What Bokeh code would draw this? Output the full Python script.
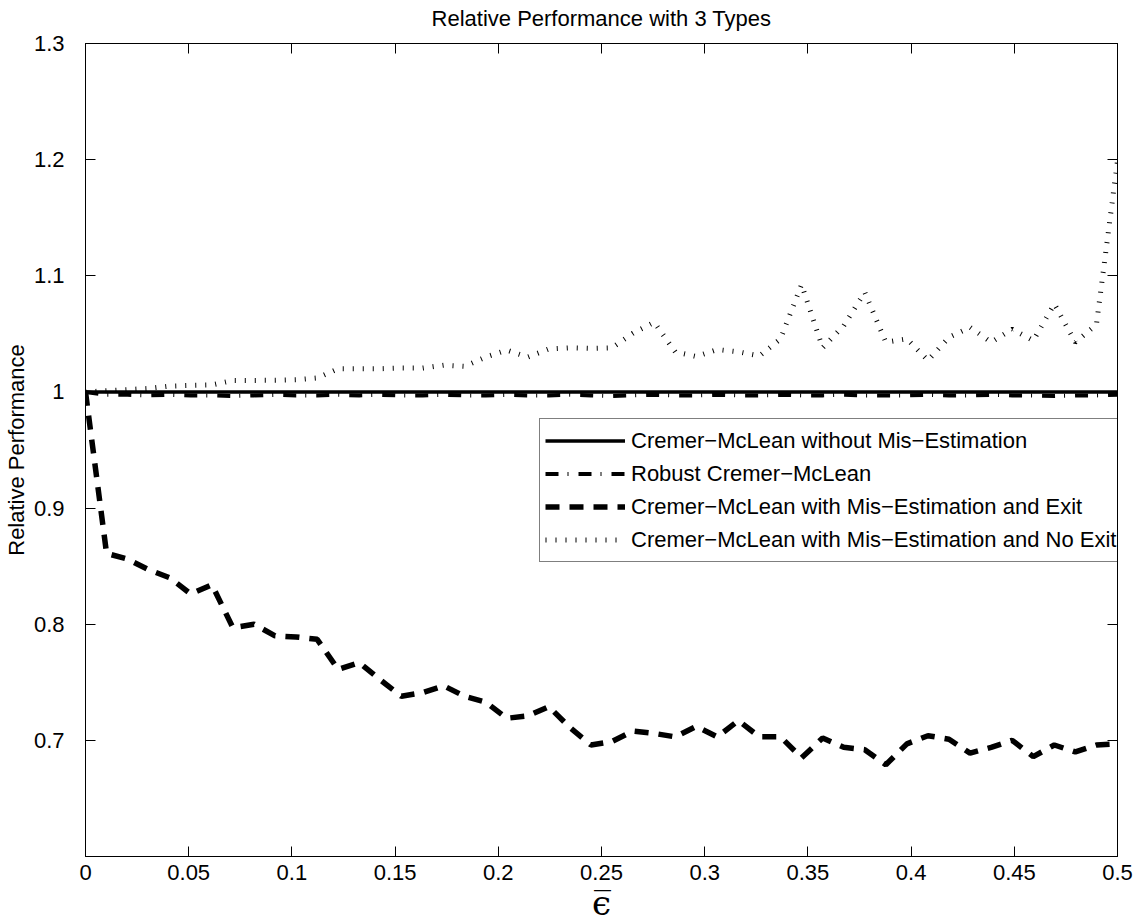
import numpy as np
from bokeh.plotting import figure
from bokeh.models import LinearAxis, FixedTicker, Range1d, Legend, LegendItem
from bokeh.embed import file_html
from bokeh.resources import INLINE

# ---------------- data ----------------
eps_bar = np.linspace(0.0, 0.5, 50)          # sample grid of epsilon-bar

cm_without_misest = [1.0] * 50

robust_cm = [1.000, 0.9975, 0.9975, 0.997, 0.9975, 0.997, 0.997, 0.9965, 0.997, 0.9975,
             0.997, 0.997, 0.9975, 0.997, 0.9975, 0.997, 0.997, 0.9975, 0.997, 0.997,
             0.9975, 0.997, 0.997, 0.9975, 0.997, 0.9965, 0.997, 0.9975, 0.997, 0.997,
             0.9975, 0.997, 0.997, 0.9975, 0.997, 0.997, 0.9975, 0.997, 0.997, 0.997,
             0.9975, 0.997, 0.997, 0.9975, 0.997, 0.997, 0.9965, 0.997, 0.997, 0.9975]

cm_misest_exit = [1.000, 0.861, 0.856, 0.847, 0.840, 0.826, 0.834, 0.797, 0.800, 0.790,
                  0.789, 0.787, 0.761, 0.767, 0.752, 0.738, 0.741, 0.747, 0.738, 0.733,
                  0.719, 0.721, 0.729, 0.711, 0.696, 0.699, 0.708, 0.706, 0.703, 0.712,
                  0.703, 0.717, 0.703, 0.703, 0.685, 0.702, 0.694, 0.692, 0.679, 0.697,
                  0.704, 0.701, 0.689, 0.694, 0.700, 0.686, 0.696, 0.690, 0.696, 0.697]

cm_misest_noexit = [1.000, 1.001, 1.002, 1.003, 1.005, 1.0056, 1.006, 1.0099, 1.0099, 1.010,
                    1.0105, 1.012, 1.020, 1.020, 1.020, 1.0205, 1.0205, 1.023, 1.022, 1.030,
                    1.036, 1.030, 1.037, 1.038, 1.0375, 1.038, 1.0506, 1.060, 1.0345, 1.0305,
                    1.0365, 1.0345, 1.031, 1.0457, 1.0924, 1.038, 1.057, 1.0858, 1.0428, 1.0457,
                    1.0271, 1.0471, 1.0557, 1.0428, 1.0541, 1.0442, 1.0758, 1.0428, 1.058, 1.199]

series_labels = ["Cremer\u2212McLean without Mis\u2212Estimation",
                 "Robust Cremer\u2212McLean",
                 "Cremer\u2212McLean with Mis\u2212Estimation and Exit",
                 "Cremer\u2212McLean with Mis\u2212Estimation and No Exit"]

x_ticks = [0, 0.05, 0.1, 0.15, 0.2, 0.25, 0.3, 0.35, 0.4, 0.45, 0.5]
x_tick_labels = ["0", "0.05", "0.1", "0.15", "0.2", "0.25", "0.3", "0.35", "0.4", "0.45", "0.5"]
y_ticks = [0.7, 0.8, 0.9, 1.0, 1.1, 1.2, 1.3]
y_tick_labels = ["0.7", "0.8", "0.9", "1", "1.1", "1.2", "1.3"]

title_text = "Relative Performance with 3 Types"
y_label = "Relative Performance"
x_label = "\u03f5\u0305"

FONT = "Liberation Sans"

# ---------------- figure ----------------
p = figure(frame_width=1032, frame_height=813,
           x_range=Range1d(0.0, 0.5), y_range=Range1d(0.6, 1.3),
           output_backend="svg", toolbar_location=None,
           min_border_left=83, min_border_right=28, min_border_top=43, min_border_bottom=64,
           background_fill_color="white", border_fill_color="white")

p.title.text = title_text
p.title.text_font = FONT
p.title.text_font_size = "22px"
p.title.text_font_style = "normal"
p.title.text_color = "black"
p.title.align = "center"
p.title.standoff = 5

p.xgrid.grid_line_color = None
p.ygrid.grid_line_color = None
p.outline_line_color = "black"
p.outline_line_width = 1


def style_axis(ax, show_labels=True):
    ax.axis_line_color = "black"
    ax.axis_line_width = 1
    ax.major_tick_line_color = "black"
    ax.major_tick_line_width = 1
    ax.major_tick_in = 10
    ax.major_tick_out = 0
    ax.minor_tick_line_color = None
    if show_labels:
        ax.major_label_text_font = FONT
        ax.major_label_text_font_size = "22px"
        ax.major_label_text_color = "black"
    else:
        ax.major_label_text_font_size = "0px"
        ax.major_label_standoff = 0


xb = p.xaxis[0]
xb.ticker = FixedTicker(ticks=x_ticks)
xb.major_label_overrides = {t: s for t, s in zip(x_ticks, x_tick_labels)}
style_axis(xb)
xb.major_label_standoff = 8
xb.axis_label = x_label
xb.axis_label_text_font = "DejaVu Serif"
xb.axis_label_text_font_size = "34px"
xb.axis_label_text_font_style = "normal"
xb.axis_label_text_color = "black"
xb.axis_label_standoff = 0

yl = p.yaxis[0]
yl.ticker = FixedTicker(ticks=y_ticks)
yl.major_label_overrides = {t: s for t, s in zip(y_ticks, y_tick_labels)}
style_axis(yl)
yl.major_label_standoff = 21
yl.axis_label = y_label
yl.axis_label_text_font = FONT
yl.axis_label_text_font_size = "22px"
yl.axis_label_text_font_style = "normal"
yl.axis_label_text_color = "black"
yl.axis_label_standoff = 2

# top axis (ticks only); a blank axis label reserves a gap that lifts the title
xt = LinearAxis(ticker=FixedTicker(ticks=x_ticks))
style_axis(xt, show_labels=False)
xt.axis_label = "\u00a0"
xt.axis_label_text_font = FONT
xt.axis_label_text_font_size = "7px"
xt.axis_label_standoff = 0
p.add_layout(xt, "above")

yr = LinearAxis(ticker=FixedTicker(ticks=y_ticks))
style_axis(yr, show_labels=False)
p.add_layout(yr, "right")

# ---------------- lines ----------------
r_solid = p.line(eps_bar, cm_without_misest, line_color="black", line_width=3.5)
r_robust = p.line(eps_bar, robust_cm, line_color="black", line_width=4,
                  line_dash="13 9 1 10", line_cap="butt")
r_exit = p.line(eps_bar, cm_misest_exit, line_color="black", line_width=5.5,
                line_dash="14 10", line_cap="butt")
r_noexit = p.line(eps_bar, cm_misest_noexit, line_color="black", line_width=5,
                  line_dash="1 9", line_cap="butt")

legend = Legend(items=[LegendItem(label=series_labels[0], renderers=[r_solid]),
                       LegendItem(label=series_labels[1], renderers=[r_robust]),
                       LegendItem(label=series_labels[2], renderers=[r_exit]),
                       LegendItem(label=series_labels[3], renderers=[r_noexit])],
                location=(454, 294), margin=0, padding=5, spacing=0,
                glyph_width=80, glyph_height=33, label_height=33, label_width=484,
                label_standoff=6,
                label_text_font=FONT, label_text_font_size="22px", label_text_color="black",
                border_line_color="black", border_line_width=1,
                background_fill_color="white", background_fill_alpha=1.0)
p.add_layout(legend)

open("out.html", "w").write(file_html(p, INLINE))
